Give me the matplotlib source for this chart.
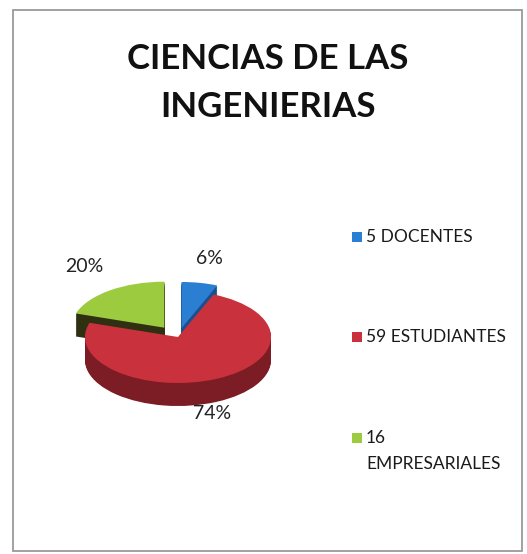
import numpy as np
import matplotlib
matplotlib.use('Agg')
import matplotlib.pyplot as plt
from matplotlib.patches import Rectangle

# data
categories = ['5 DOCENTES', '59 ESTUDIANTES', '16\nEMPRESARIALES']
counts = [5, 59, 16]
top_colors = ['#2b7fd2', '#c9313d', '#9ccb40']
side_colors = ['#1b4f8e', '#7c1c24', '#2f3012']
explode = [0.2, 0.0, 0.25]
title = 'CIENCIAS DE LAS\nINGENIERIAS'

W, H = 527, 554
plt.rcParams['font.family'] = ['Lato', 'DejaVu Sans']

fig = plt.figure(figsize=(W / 100, H / 100), dpi=100)
fig.patch.set_facecolor('white')


def fx(px):
    return px / W


def fy(py):
    return 1 - py / H


# chart frame
fig.add_artist(Rectangle((fx(13), fy(551)), fx(522) - fx(13), fy(10) - fy(551),
                         transform=fig.transFigure, fill=False,
                         edgecolor='#9a9a9a', linewidth=1.3))

fig.text(fx(268), fy(83), title, ha='center', va='center', fontsize=25,
         fontweight='bold', linespacing=1.6, color='#111111')

# pie placed so that one x unit = 92 px and one y unit = 46 px (tilted look)
cx, cy, rx, ry = 178, 337, 93, 46
xl, yl = (-1.6, 1.6), (-2.0, 2.2)
ax = fig.add_axes([fx(cx + xl[0] * rx), fy(cy - yl[0] * ry),
                   (xl[1] - xl[0]) * rx / W, (yl[1] - yl[0]) * ry / H])

depth = 0.5
for k in np.linspace(depth, 0.02, 30):
    ax.pie(counts, colors=side_colors, explode=explode, startangle=90,
           counterclock=False, center=(0, -k),
           wedgeprops=dict(linewidth=0))

wedges, texts, pct = ax.pie(counts, colors=top_colors, explode=explode,
                            startangle=90, counterclock=False,
                            autopct='%.0f%%', pctdistance=1.55,
                            wedgeprops=dict(linewidth=0),
                            textprops=dict(fontsize=14, color='#222222'))
# excel puts the big slice label nearer the middle
x74, y74 = pct[1].get_position()
pct[1].set_position((x74 - 0.28, y74 - 0.25))
x20, y20 = pct[2].get_position()
pct[2].set_position((x20 + 0.05, y20 + 0.08))

ax.set_aspect('auto')
ax.set_xlim(*xl)
ax.set_ylim(*yl)
ax.axis('off')

# legend drawn by hand to keep the wide spacing of the original
leg_y = [237, 337, 438]
for lab, col, yy in zip(categories, top_colors, leg_y):
    fig.add_artist(Rectangle((fx(352), fy(yy + 5)), 10 / W, 10 / H,
                             transform=fig.transFigure, color=col, lw=0))
    fig.text(fx(366), fy(yy - 8) if '\n' in lab else fy(yy), lab, ha='left',
             va='top' if '\n' in lab else 'center',
             fontsize=12.5, color='#1a1a1a', linespacing=1.75)

fig.savefig('out.png', dpi=100, facecolor='white')
